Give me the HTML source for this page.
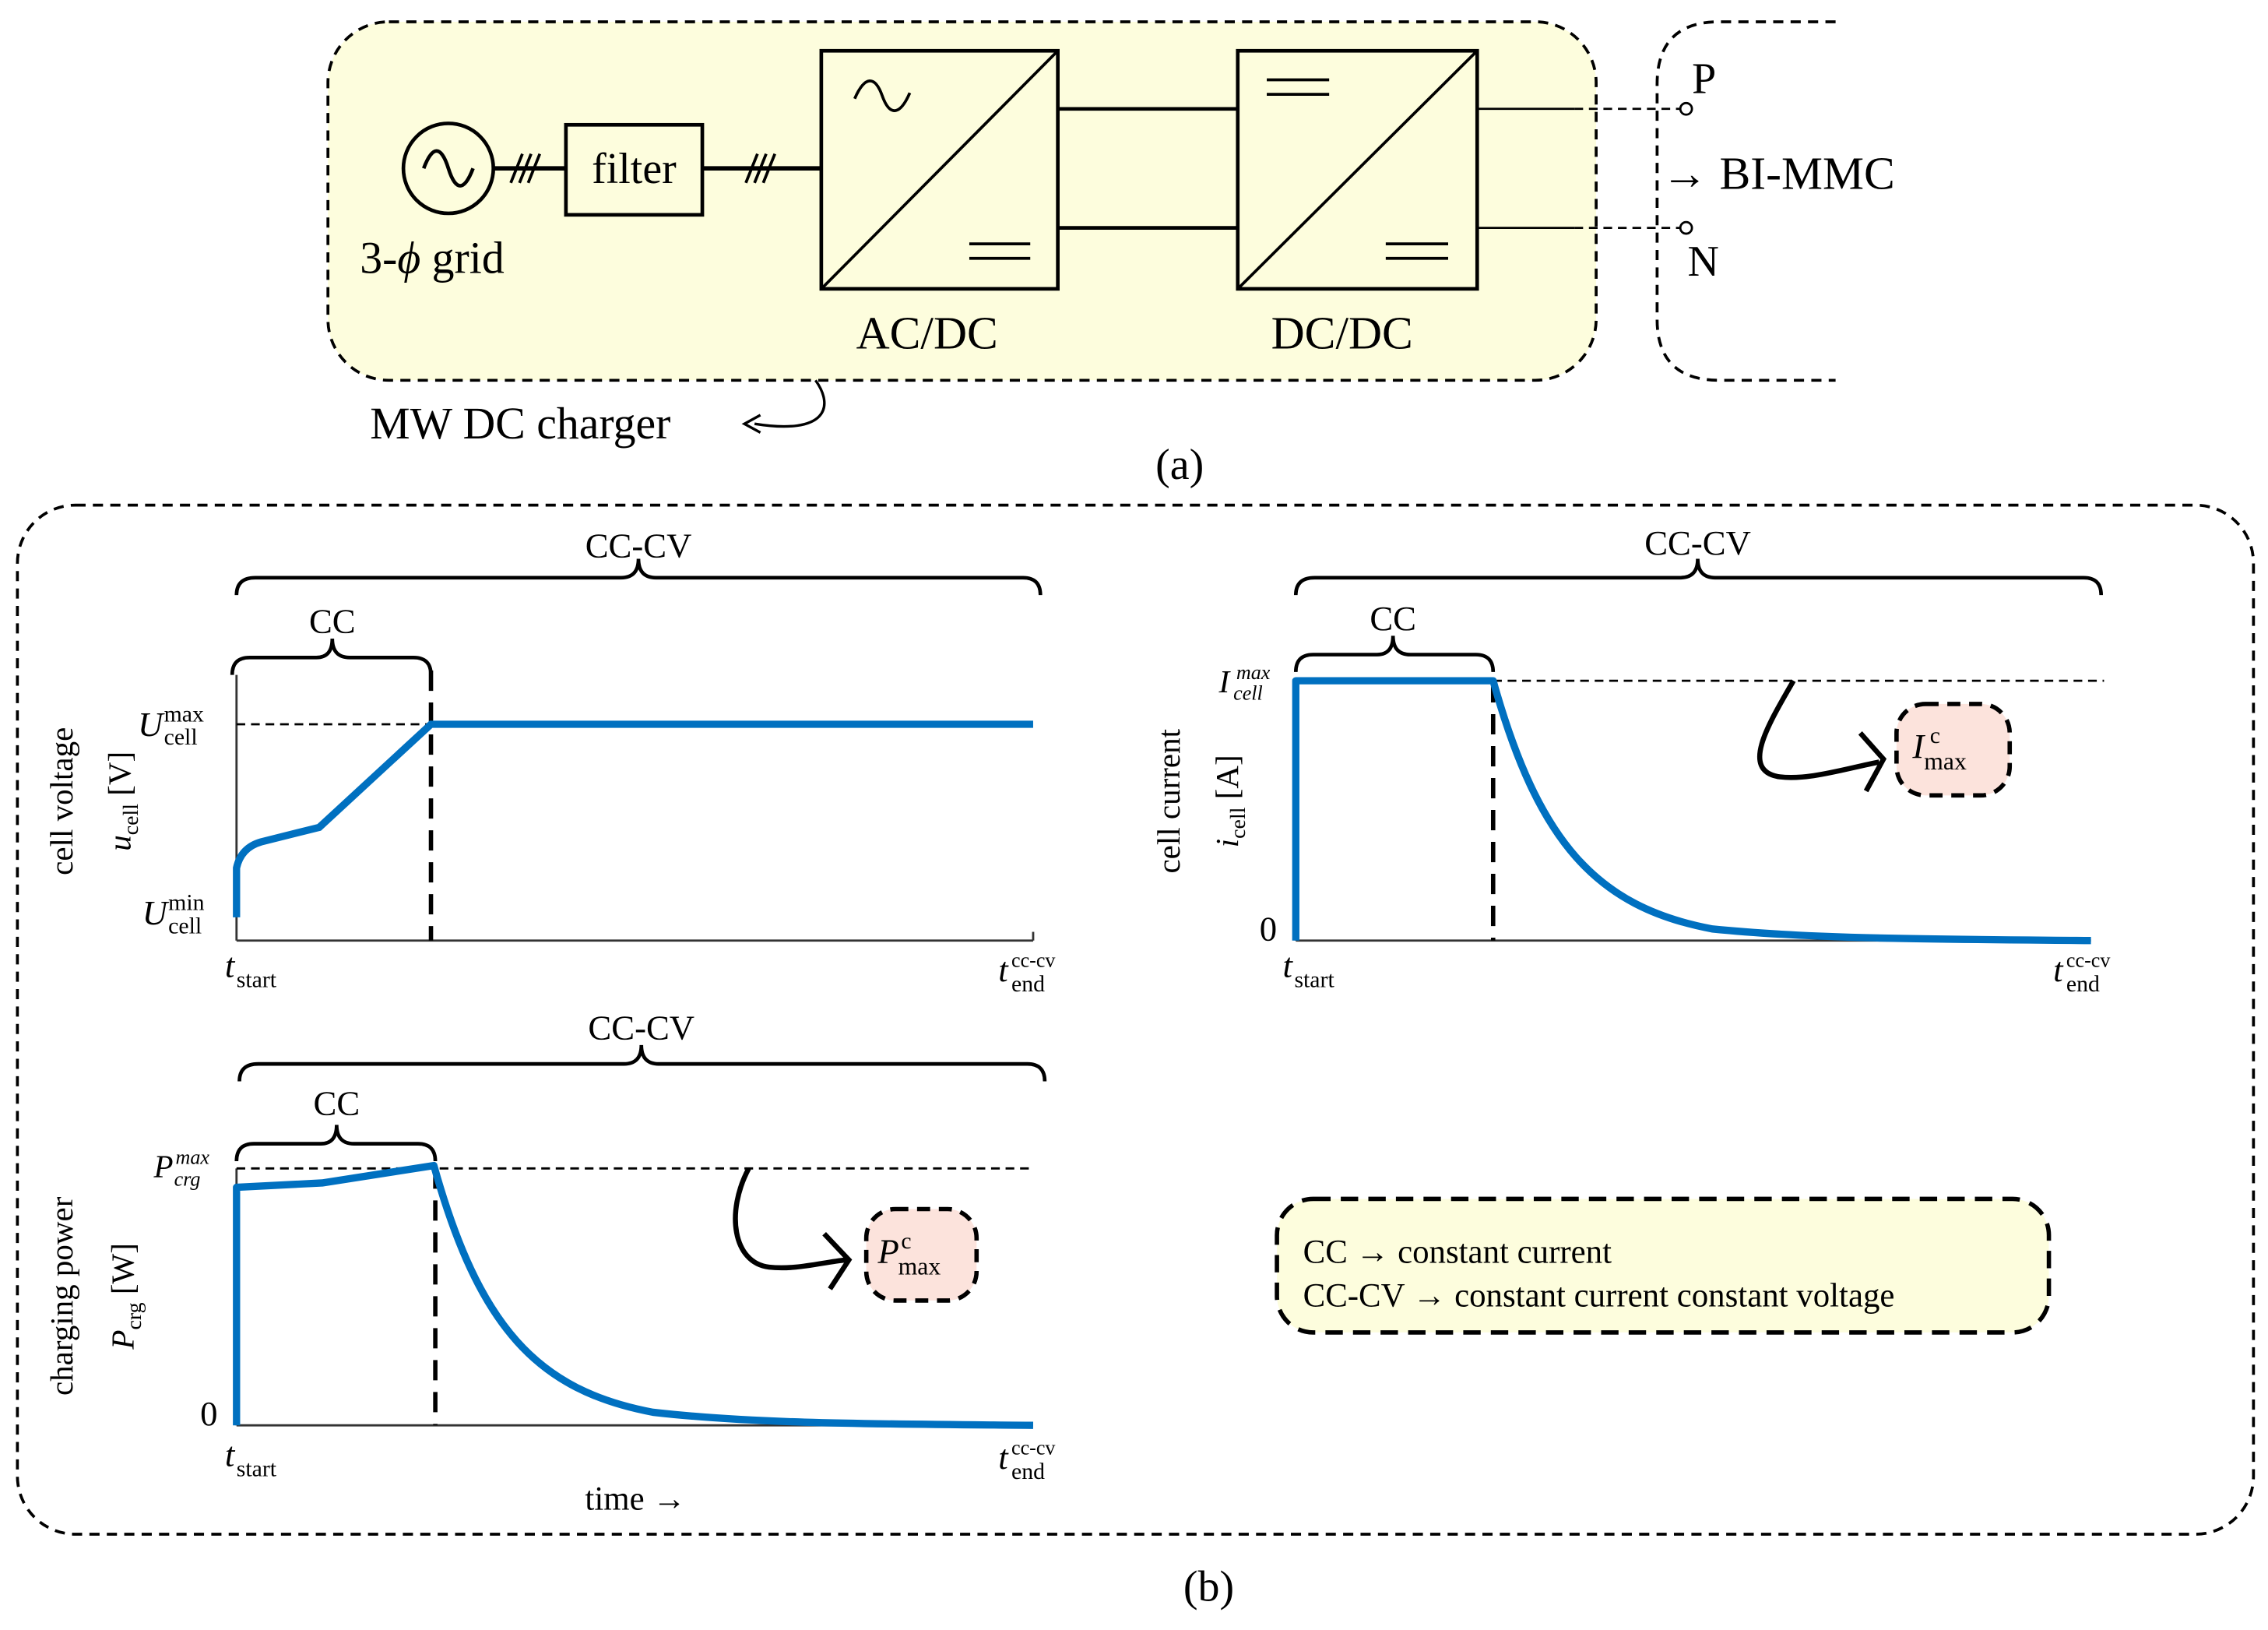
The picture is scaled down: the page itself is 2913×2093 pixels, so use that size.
<!DOCTYPE html>
<html><head><meta charset="utf-8"><style>
html,body{margin:0;padding:0;background:#fff;}
svg{display:block;}
text{font-family:"Liberation Serif",serif;fill:#000;}
</style></head><body>
<svg width="2913" height="2093" viewBox="0 0 1563 1123" preserveAspectRatio="none" xmlns="http://www.w3.org/2000/svg">
<!-- (a) -->
<rect x="226" y="15" width="874" height="247" rx="42" fill="#fdfddd" stroke="#000" stroke-width="2" stroke-dasharray="7,5"/>
<path d="M1265,15 L1185,15 Q1142,15 1142,58 L1142,220 Q1142,262 1185,262 L1265,262" fill="none" stroke="#000" stroke-width="2" stroke-dasharray="7,5"/>
<circle cx="309" cy="116" r="31" fill="none" stroke="#000" stroke-width="2.5"/>
<path d="M292,116 C298,100 304,100 309,116 C314,132 320,132 326,116" fill="none" stroke="#000" stroke-width="2.5"/>
<line x1="340" y1="116" x2="390" y2="116" stroke="#000" stroke-width="3"/>
<path d="M352,126 L360,106 M358,126 L366,106 M364,126 L372,106" stroke="#000" stroke-width="2"/>
<rect x="390" y="86" width="94" height="62" fill="none" stroke="#000" stroke-width="2.5"/>
<text x="437" y="126" font-size="30" text-anchor="middle">filter</text>
<line x1="484" y1="116" x2="566" y2="116" stroke="#000" stroke-width="3"/>
<path d="M514,126 L522,106 M520,126 L528,106 M526,126 L534,106" stroke="#000" stroke-width="2"/>
<rect x="566" y="35" width="163" height="164" fill="none" stroke="#000" stroke-width="2.5"/>
<line x1="566" y1="199" x2="729" y2="35" stroke="#000" stroke-width="2"/>
<path d="M589,68 C596,52 603,52 608,66 C613,80 620,80 627,64" fill="none" stroke="#000" stroke-width="2"/>
<path d="M668,168 L710,168 M668,178 L710,178" stroke="#000" stroke-width="2"/>
<line x1="729" y1="75" x2="853" y2="75" stroke="#000" stroke-width="2.5"/>
<line x1="729" y1="157" x2="853" y2="157" stroke="#000" stroke-width="2.5"/>
<rect x="853" y="35" width="165" height="164" fill="none" stroke="#000" stroke-width="2.5"/>
<line x1="853" y1="199" x2="1018" y2="35" stroke="#000" stroke-width="2"/>
<path d="M873,55 L916,55 M873,65 L916,65" stroke="#000" stroke-width="2"/>
<path d="M955,168 L998,168 M955,178 L998,178" stroke="#000" stroke-width="2"/>
<line x1="1018" y1="75" x2="1085" y2="75" stroke="#000" stroke-width="1.5"/>
<line x1="1018" y1="157" x2="1085" y2="157" stroke="#000" stroke-width="1.5"/>
<line x1="1085" y1="75" x2="1158" y2="75" stroke="#000" stroke-width="1.5" stroke-dasharray="6,4"/>
<line x1="1085" y1="157" x2="1158" y2="157" stroke="#000" stroke-width="1.5" stroke-dasharray="6,4"/>
<circle cx="1162" cy="75" r="4" fill="#fff" stroke="#000" stroke-width="1.5"/>
<circle cx="1162" cy="157" r="4" fill="#fff" stroke="#000" stroke-width="1.5"/>
<text x="1166" y="64" font-size="30">P</text>
<text x="1163" y="190" font-size="30">N</text>
<text x="1145" y="130" font-size="32">→ BI-MMC</text>
<text x="248" y="188" font-size="31">3-<tspan font-style="italic">ϕ</tspan> grid</text>
<text x="590" y="240" font-size="32">AC/DC</text>
<text x="876" y="240" font-size="32">DC/DC</text>
<text x="255" y="302" font-size="31">MW DC charger</text>
<path d="M562,262 C575,280 570,300 520,292" fill="none" stroke="#000" stroke-width="1.8"/>
<path d="M524,286 L513,292 L524,298" fill="none" stroke="#000" stroke-width="1.8"/>
<text x="813" y="330" font-size="30" text-anchor="middle">(a)</text>

<!-- (b) -->
<rect x="12" y="348" width="1541" height="709" rx="40" fill="none" stroke="#000" stroke-width="2" stroke-dasharray="7,5"/>
<text x="833" y="1103" font-size="30" text-anchor="middle">(b)</text>

<!-- plot 1 -->
<path d="M163,410 Q163,398 176,398 L428,398 Q440,398 440,385 Q440,398 452,398 L705,398 Q717,398 717,410" fill="none" stroke="#000" stroke-width="2.5"/>
<text x="440" y="384" font-size="24" text-anchor="middle">CC-CV</text>
<path d="M160,465 Q160,453 172,453 L218,453 Q229,453 229,440 Q229,453 241,453 L285,453 Q297,453 297,465" fill="none" stroke="#000" stroke-width="2.5"/>
<text x="229" y="436" font-size="24" text-anchor="middle">CC</text>
<line x1="163" y1="465" x2="163" y2="648" stroke="#333" stroke-width="1.5"/>
<line x1="163" y1="648" x2="712" y2="648" stroke="#333" stroke-width="1.5"/>
<line x1="712" y1="642" x2="712" y2="648" stroke="#333" stroke-width="1.5"/>
<line x1="163" y1="499" x2="297" y2="499" stroke="#000" stroke-width="1.5" stroke-dasharray="6,4"/>
<line x1="297" y1="462" x2="297" y2="648" stroke="#000" stroke-width="3" stroke-dasharray="14,8"/>
<path d="M163,632 L163,598 Q166,584 180,580 L220,570 L297,499 L712,499" fill="none" stroke="#0070c0" stroke-width="5"/>
<text x="95" y="507" font-size="24" font-style="italic">U</text><text x="113" y="497" font-size="16">max</text><text x="113" y="513" font-size="16">cell</text>
<text x="98" y="637" font-size="24" font-style="italic">U</text><text x="116" y="627" font-size="16">min</text><text x="116" y="643" font-size="16">cell</text>
<text transform="translate(50,552) rotate(-90)" font-size="22" text-anchor="middle">cell voltage</text>
<text transform="translate(90,552) rotate(-90)" font-size="22" text-anchor="middle"><tspan font-style="italic">u</tspan><tspan font-size="15" dy="5">cell</tspan><tspan dy="-5"> [V]</tspan></text>
<text x="155" y="673" font-size="24" font-style="italic">t</text><text x="163" y="680" font-size="16">start</text>
<text x="688" y="676" font-size="24" font-style="italic">t</text><text x="697" y="666" font-size="14">cc-cv</text><text x="697" y="683" font-size="16">end</text>

<!-- plot 2 -->
<path d="M893,410 Q893,398 906,398 L1158,398 Q1170,398 1170,385 Q1170,398 1182,398 L1436,398 Q1448,398 1448,410" fill="none" stroke="#000" stroke-width="2.5"/>
<text x="1170" y="382" font-size="24" text-anchor="middle">CC-CV</text>
<path d="M893,463 Q893,451 905,451 L949,451 Q960,451 960,438 Q960,451 972,451 L1017,451 Q1029,451 1029,463" fill="none" stroke="#000" stroke-width="2.5"/>
<text x="960" y="434" font-size="24" text-anchor="middle">CC</text>
<line x1="893" y1="469" x2="893" y2="648" stroke="#333" stroke-width="1.5"/>
<line x1="893" y1="648" x2="1441" y2="648" stroke="#333" stroke-width="1.5"/>
<line x1="1029" y1="469" x2="1450" y2="469" stroke="#000" stroke-width="1.5" stroke-dasharray="6,4"/>
<line x1="1029" y1="470" x2="1029" y2="648" stroke="#000" stroke-width="3" stroke-dasharray="14,8"/>
<path d="M893,648 L893,469 L1029,469 C1060,580 1100,625 1180,640 C1250,647 1330,647 1441,648" fill="none" stroke="#0070c0" stroke-width="5" stroke-linejoin="round"/>
<path d="M1236,469 C1218,500 1200,530 1225,535 C1245,538 1270,530 1295,525" fill="none" stroke="#000" stroke-width="3.5"/>
<path d="M1282,505 L1298,523 L1286,545" fill="none" stroke="#000" stroke-width="3.5"/>
<rect x="1307" y="485" width="78" height="63" rx="20" fill="#fce3dc" stroke="#000" stroke-width="3" stroke-dasharray="9,6"/>
<text x="1318" y="522" font-size="24" font-style="italic">I</text><text x="1330" y="512" font-size="16">c</text><text x="1326" y="530" font-size="17">max</text>
<text x="840" y="477" font-size="22" font-style="italic">I</text><text x="852" y="468" font-size="14" font-style="italic">max</text><text x="850" y="482" font-size="14" font-style="italic">cell</text>
<text x="868" y="648" font-size="24">0</text>
<text transform="translate(813,552) rotate(-90)" font-size="22" text-anchor="middle">cell current</text>
<text transform="translate(853,552) rotate(-90)" font-size="22" text-anchor="middle"><tspan font-style="italic">i</tspan><tspan font-size="15" dy="5">cell</tspan><tspan dy="-5"> [A]</tspan></text>
<text x="884" y="673" font-size="24" font-style="italic">t</text><text x="892" y="680" font-size="16">start</text>
<text x="1415" y="676" font-size="24" font-style="italic">t</text><text x="1424" y="666" font-size="14">cc-cv</text><text x="1424" y="683" font-size="16">end</text>

<!-- plot 3 -->
<path d="M165,745 Q165,733 178,733 L430,733 Q442,733 442,720 Q442,733 454,733 L708,733 Q720,733 720,745" fill="none" stroke="#000" stroke-width="2.5"/>
<text x="442" y="716" font-size="24" text-anchor="middle">CC-CV</text>
<path d="M163,800 Q163,788 175,788 L221,788 Q232,788 232,775 Q232,788 244,788 L288,788 Q300,788 300,800" fill="none" stroke="#000" stroke-width="2.5"/>
<text x="232" y="768" font-size="24" text-anchor="middle">CC</text>
<line x1="163" y1="805" x2="163" y2="982" stroke="#333" stroke-width="1.5"/>
<line x1="163" y1="982" x2="712" y2="982" stroke="#333" stroke-width="1.5"/>
<line x1="163" y1="805" x2="712" y2="805" stroke="#000" stroke-width="1.5" stroke-dasharray="6,4"/>
<line x1="300" y1="805" x2="300" y2="982" stroke="#000" stroke-width="3" stroke-dasharray="14,8"/>
<path d="M163,982 L163,818 L222,815 L299,803 C330,914 370,958 450,973 C520,981 600,981 712,982" fill="none" stroke="#0070c0" stroke-width="5" stroke-linejoin="round"/>
<path d="M516,805 C500,835 505,870 530,873 C548,875 565,870 583,868" fill="none" stroke="#000" stroke-width="3.5"/>
<path d="M568,850 L585,868 L572,888" fill="none" stroke="#000" stroke-width="3.5"/>
<rect x="597" y="833" width="76" height="63" rx="20" fill="#fce3dc" stroke="#000" stroke-width="3" stroke-dasharray="9,6"/>
<text x="605" y="870" font-size="24" font-style="italic">P</text><text x="621" y="860" font-size="16">c</text><text x="619" y="878" font-size="17">max</text>
<text x="106" y="811" font-size="22" font-style="italic">P</text><text x="121" y="802" font-size="14" font-style="italic">max</text><text x="120" y="817" font-size="14" font-style="italic">crg</text>
<text x="138" y="982" font-size="24">0</text>
<text transform="translate(50,893) rotate(-90)" font-size="22" text-anchor="middle">charging power</text>
<text transform="translate(92,893) rotate(-90)" font-size="22" text-anchor="middle"><tspan font-style="italic">P</tspan><tspan font-size="15" dy="5">crg</tspan><tspan dy="-5"> [W]</tspan></text>
<text x="155" y="1010" font-size="24" font-style="italic">t</text><text x="163" y="1017" font-size="16">start</text>
<text x="688" y="1012" font-size="24" font-style="italic">t</text><text x="697" y="1002" font-size="14">cc-cv</text><text x="697" y="1019" font-size="16">end</text>
<text x="438" y="1040" font-size="23" text-anchor="middle">time →</text>

<!-- legend -->
<rect x="880" y="826" width="532" height="92" rx="25" fill="#fdfddd" stroke="#000" stroke-width="3" stroke-dasharray="12,7"/>
<text x="898" y="870" font-size="23">CC → constant current</text>
<text x="898" y="900" font-size="23">CC-CV → constant current constant voltage</text>
</svg>
</body></html>
